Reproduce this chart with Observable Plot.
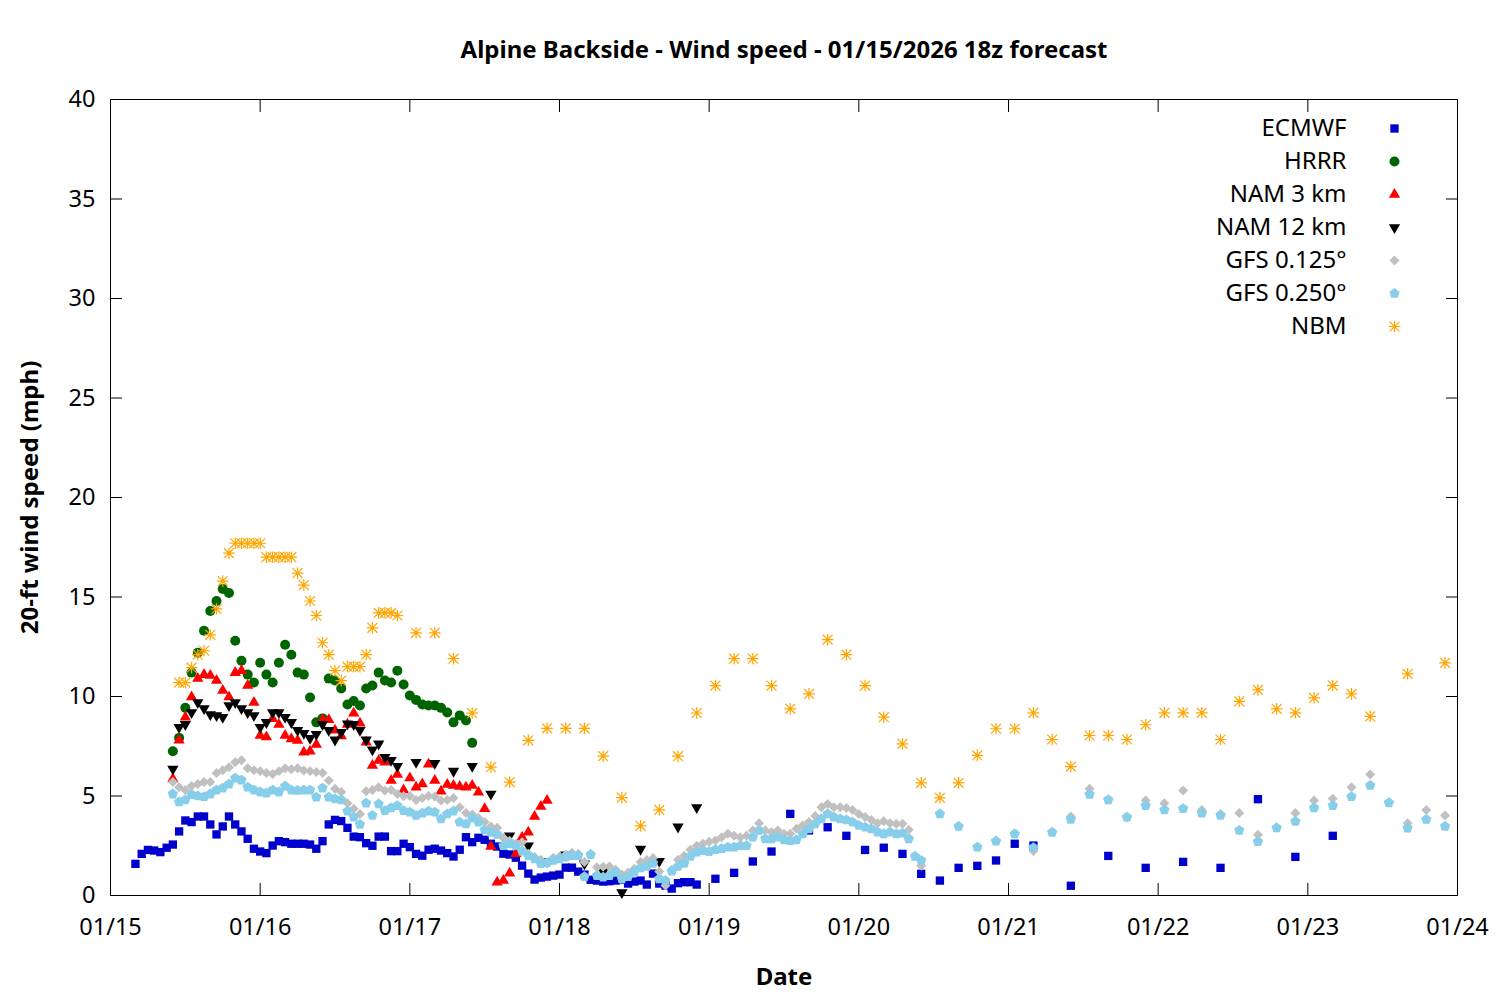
<!DOCTYPE html>
<html>
<head>
<meta charset="utf-8">
<script src="https://cdn.jsdelivr.net/npm/d3@7"></script>
<script src="https://cdn.jsdelivr.net/npm/@observablehq/plot@0.6"></script>
<style>
  body { margin: 0; background: #fff; }
  #chart { width: 1500px; height: 1000px; }
</style>
</head>
<body>
<div id="chart"></div>
<script>
// ---- Text ----
const chartTitle = "Alpine Backside - Wind speed - 01/15/2026 18z forecast";
const xTitle = "Date";
const yTitle = "20-ft wind speed (mph)";
const dayLabels = ["01/15","01/16","01/17","01/18","01/19","01/20","01/21","01/22","01/23","01/24"];
const speedTicks = [0, 5, 10, 15, 20, 25, 30, 35, 40];
const seriesNames = ["ECMWF", "HRRR", "NAM 3 km", "NAM 12 km", "GFS 0.125°", "GFS 0.250°", "NBM"];
const seriesColors = ["#0000CD", "#006400", "#FF0000", "#000000", "#C0C0C0", "#87CEEB", "#FFA500"];

// ---- Forecast valid times: hours after 01/15 00:00 local ----
const ecmwfHours = [...d3.range(4, 95), ...d3.range(97, 149, 3), ...d3.range(154, 197, 6)];
const hrrrHours = d3.range(10, 59);
const nam3Hours = d3.range(10, 71);
const nam12Hours = [...d3.range(10, 47), ...d3.range(49, 95, 3)];
const gfsHours = [...d3.range(10, 131), ...d3.range(133, 215, 3)];
const nbmHours = [...d3.range(11, 47), ...d3.range(49, 203, 3), 208, 214];

// ---- Wind speeds (mph) ----
const ecmwfSpeed = [
  1.59,2.09,2.29,2.26,2.18,2.40,2.56,3.22,3.77,3.69,
  3.97,3.97,3.57,3.07,3.47,3.97,3.57,3.22,2.85,2.35,
  2.21,2.13,2.51,2.73,2.68,2.60,2.60,2.60,2.56,2.35,
  2.73,3.57,3.80,3.74,3.40,2.96,2.93,2.63,2.50,2.96,
  2.96,2.23,2.23,2.60,2.43,2.09,2.00,2.30,2.35,2.26,
  2.13,1.96,2.30,2.93,2.68,2.90,2.80,2.60,2.46,2.10,
  2.06,1.90,1.50,1.10,0.80,0.90,0.95,1.00,1.05,1.40,
  1.40,1.20,1.05,0.79,0.75,0.70,0.72,0.75,0.80,0.60,
  0.70,0.75,0.55,1.10,0.60,0.50,0.35,0.62,0.67,0.67,0.55,
  0.84,1.14,1.71,2.21,4.10,3.27,3.43,3.00,2.29,2.40,2.09,1.09,0.75,1.39,1.49,1.76,2.60,2.51,
  0.49,1.99,1.39,1.69,1.39,4.84,1.94,3.00
];
const hrrrSpeed = [
  7.25,7.92,9.43,11.2,12.2,13.3,14.3,14.8,15.4,15.2,
  12.8,11.8,11.1,10.7,11.7,11.1,10.7,11.7,12.6,12.1,
  11.2,11.1,9.95,8.7,8.9,10.9,10.8,10.4,9.6,9.77,
  9.55,10.4,10.55,11.2,10.8,10.7,11.3,10.6,10.05,9.83,
  9.6,9.55,9.55,9.43,9.2,8.7,9.05,8.8,7.67
];
const nam3Speed = [
  5.86,7.8,8.96,9.97,10.9,11.1,11.05,10.8,10.3,9.97,
  11.2,11.3,10.55,9.7,8.04,7.96,8.88,8.59,8.04,7.87,
  7.79,7.2,7.25,7.59,8.83,8.83,8.3,8.02,8.6,9.16,
  8.66,7.7,6.53,6.78,6.7,5.78,6.08,5.3,5.9,5.44,
  5.6,6.6,5.78,5.24,5.58,5.53,5.48,5.44,5.53,5.19,
  4.36,2.46,0.67,0.75,1.12,2.1,2.93,3.18,3.97,4.47,4.77
];
const nam12Speed = [
  6.36,8.46,8.6,9.2,9.7,9.4,9.1,9.05,8.96,9.55,
  9.7,9.4,9.2,9.05,8.46,8.7,9.2,9.2,8.96,8.7,
  8.3,8.15,7.9,8.1,8.6,8.3,7.82,8.2,8.63,8.6,
  8.3,7.82,7.32,7.62,6.95,6.8,6.5,
  6.7,6.65,6.25,6.5,5.1,3.0,2.5,1.72,2.05,1.6,1.2,0.15,2.33,1.72,3.45,4.42
];
const gfs0125Speed = [
  5.7,5.44,5.3,5.5,5.6,5.7,5.7,6.15,6.3,6.45,
  6.7,6.8,6.4,6.3,6.25,6.15,6.1,6.25,6.4,6.35,
  6.4,6.28,6.25,6.2,6.15,5.78,5.36,5.2,4.64,4.36,
  4.1,5.24,5.3,5.44,5.28,5.3,5.1,5.0,5.0,4.8,
  4.9,5.0,4.97,4.77,4.8,4.9,4.44,4.14,4.07,3.9,
  3.69,3.47,3.4,2.9,2.75,2.6,2.68,2.1,1.93,1.8,
  1.6,1.9,1.95,2.05,2.15,2.1,1.68,2.1,1.42,1.45,
  1.46,1.3,1.05,1.15,1.35,1.68,1.79,1.89,1.2,0.5,
  1.3,1.8,2.0,2.3,2.5,2.6,2.7,2.76,2.93,3.1,
  3.0,2.93,3.0,3.27,3.63,3.27,3.18,3.27,3.1,3.1,
  3.35,3.52,3.69,4.0,4.44,4.6,4.44,4.44,4.4,4.3,
  4.1,3.94,3.8,3.63,3.73,3.63,3.6,3.6,3.3,2.0,
  1.5,
  4.12,3.5,2.45,2.75,3.12,2.23,3.2,3.97,5.36,4.83,
  3.92,4.77,4.64,5.28,4.3,4.1,4.14,3.05,3.43,4.14,
  4.77,4.86,5.44,6.08,4.69,3.63,4.3,4.02
];
const gfs0250Speed = [
  5.1,4.7,4.8,5.07,5.0,4.97,5.1,5.3,5.4,5.6,
  5.9,5.8,5.45,5.3,5.2,5.14,5.3,5.2,5.5,5.3,
  5.28,5.3,5.3,4.94,5.4,4.94,4.86,4.8,4.24,3.94,
  3.57,4.64,4.02,4.6,4.27,4.4,4.52,4.27,4.19,4.02,
  4.14,4.24,4.19,3.85,4.1,4.24,3.69,3.6,3.9,3.69,
  3.3,3.18,3.07,2.51,2.6,2.51,2.23,2.0,1.84,1.6,
  1.65,1.76,1.84,1.93,2.0,2.0,0.95,2.05,1.0,0.92,
  1.0,1.17,0.84,0.95,1.17,1.39,1.46,1.62,0.84,0.75,
  1.22,1.46,1.62,1.96,2.18,2.26,2.2,2.3,2.35,2.43,
  2.43,2.5,2.5,2.93,3.27,2.85,2.85,2.93,2.8,2.76,
  2.8,3.1,3.35,3.6,3.85,4.1,3.94,3.85,3.8,3.69,
  3.52,3.43,3.35,3.18,3.1,3.18,3.1,3.13,2.85,1.96,
  1.76,
  4.1,3.47,2.43,2.73,3.1,2.4,3.17,3.82,5.08,4.81,
  3.94,4.52,4.3,4.36,4.14,4.02,3.27,2.71,3.4,3.72,
  4.4,4.52,4.97,5.53,4.66,3.38,3.82,3.47
];
const nbmSpeed = [
  10.7,10.7,11.45,12.1,12.3,13.1,14.4,15.8,17.2,17.7,
  17.7,17.7,17.7,17.7,17.0,17.0,17.0,17.0,17.0,16.2,
  15.6,14.8,14.07,12.7,12.1,11.3,10.8,11.5,11.5,11.5,
  12.1,13.45,14.2,14.2,14.2,14.07,
  13.2,13.2,11.9,9.16,6.45,5.7,7.8,8.4,8.4,8.4,
  7.0,4.92,3.5,4.3,7.0,9.17,10.55,11.9,11.9,10.55,
  9.38,10.13,12.86,12.1,10.55,8.96,7.62,5.66,4.91,5.66,
  7.04,8.38,8.38,9.18,7.84,6.48,8.04,8.04,7.84,8.58,
  9.18,9.18,9.18,7.84,9.75,10.33,9.38,9.18,9.93,10.55,
  10.13,9.0,
  11.14,11.69
];

// ---- Helpers ----
const T0 = Date.UTC(2026, 0, 15);
const toDate = h => new Date(T0 + h * 3600e3);
const rows = (hours, speeds) => hours.map((h, i) => ({t: toDate(h), v: speeds[i]}));
const dayDates = dayLabels.map((_, i) => toDate(24 * i));
const dayLabelOf = new Map(dayDates.map((d, i) => [+d, dayLabels[i]]));

// gnuplot-like point types
const triangleDown = {draw(ctx, size) {
  const y = -Math.sqrt(size / (3 * Math.sqrt(3)));
  ctx.moveTo(0, -2 * y);
  ctx.lineTo(-Math.sqrt(3) * y, y);
  ctx.lineTo(Math.sqrt(3) * y, y);
  ctx.closePath();
}};
const pentagon = {draw(ctx, size) {
  const R = Math.sqrt(size / Math.PI);
  for (let k = 0; k < 5; k++) {
    const a = -Math.PI / 2 + k * 2 * Math.PI / 5;
    const px = R * Math.cos(a), py = R * Math.sin(a);
    if (k) ctx.lineTo(px, py); else ctx.moveTo(px, py);
  }
  ctx.closePath();
}};
const asterisk8 = {draw(ctx, size) {
  const L = Math.sqrt(size / Math.PI), d = L * 0.85;
  ctx.moveTo(-L, 0); ctx.lineTo(L, 0);
  ctx.moveTo(0, -L); ctx.lineTo(0, L);
  ctx.moveTo(-d, -d); ctx.lineTo(d, d);
  ctx.moveTo(-d, d); ctx.lineTo(d, -d);
}};

const seriesData = [
  rows(ecmwfHours, ecmwfSpeed),
  rows(hrrrHours, hrrrSpeed),
  rows(nam3Hours, nam3Speed),
  rows(nam12Hours, nam12Speed),
  rows(gfsHours, gfs0125Speed),
  rows(gfsHours, gfs0250Speed),
  rows(nbmHours, nbmSpeed)
];
const seriesStyle = [
  {symbol: "square", r: 4.7},
  {symbol: "circle", r: 5},
  {symbol: "triangle", r: 4.2},
  {symbol: triangleDown, r: 4.2},
  {symbol: "diamond2", r: 4.5},
  {symbol: pentagon, r: 5.4},
  {symbol: asterisk8, r: 5.8, hollow: true}
];
const styleFor = i => seriesStyle[i].hollow
  ? {symbol: seriesStyle[i].symbol, r: seriesStyle[i].r, fill: "none", stroke: seriesColors[i], strokeWidth: 1.2}
  : {symbol: seriesStyle[i].symbol, r: seriesStyle[i].r, fill: seriesColors[i], stroke: "none"};

const dataMarks = seriesData.map((data, i) => Plot.dot(data, {x: "t", y: "v", ...styleFor(i)}));

const legendMarks = seriesNames.flatMap((name, i) => [
  Plot.text([name], {frameAnchor: "top-right", dx: -111, dy: 29 + 33 * i, textAnchor: "end", lineAnchor: "middle", fontSize: 24, fill: "#000"}),
  Plot.dot([name], {frameAnchor: "top-right", dx: -63, dy: 29 + 33 * i, ...styleFor(i)})
]);

const chart = Plot.plot({
  width: 1500,
  height: 1000,
  marginTop: 99,
  marginRight: 43,
  marginBottom: 105,
  marginLeft: 110,
  style: {fontFamily: "'Noto Sans', 'Open Sans', sans-serif", fontSize: "23.5px", color: "#000", background: "#fff", overflow: "visible"},
  x: {type: "utc", domain: [dayDates[0], dayDates[dayDates.length - 1]]},
  y: {domain: [speedTicks[0], speedTicks[speedTicks.length - 1]]},
  marks: [
    ...dataMarks,
    Plot.frame({stroke: "#000", strokeWidth: 1}),
    Plot.axisY(speedTicks, {anchor: "left", tickSize: -12, tickPadding: 27, label: null, tickFormat: d => String(d)}),
    Plot.axisY(speedTicks, {anchor: "right", tickSize: -12, label: null, tickFormat: () => ""}),
    Plot.axisX(dayDates, {anchor: "bottom", tickSize: -12, tickPadding: 35, label: null, tickFormat: d => dayLabelOf.get(+d)}),
    Plot.axisX(dayDates, {anchor: "top", tickSize: -12, label: null, tickFormat: () => ""}),
    ...legendMarks,
    Plot.text([chartTitle], {frameAnchor: "top", dy: -49, lineAnchor: "middle", textAnchor: "middle", fontWeight: "bold", fontSize: 24, fill: "#000"}),
    Plot.text([xTitle], {frameAnchor: "bottom", dy: 82, lineAnchor: "middle", textAnchor: "middle", fontWeight: "bold", fontSize: 24, fill: "#000"}),
    Plot.text([yTitle], {frameAnchor: "left", dx: -80, rotate: -90, lineAnchor: "middle", textAnchor: "middle", fontWeight: "bold", fontSize: 24, fill: "#000"})
  ]
});
document.getElementById("chart").append(chart);
</script>
</body>
</html>
